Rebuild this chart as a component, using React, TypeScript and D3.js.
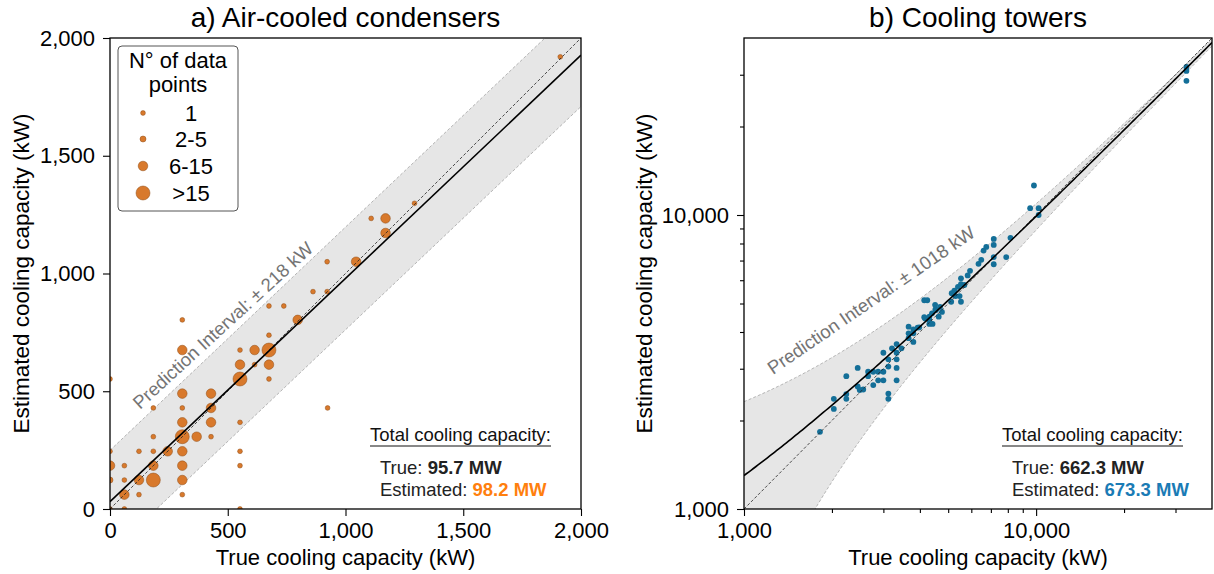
import React, { useEffect, useRef } from 'react';
import * as d3 from 'd3';

const FONT = "'Liberation Sans', Arial, Helvetica, sans-serif";

// a) air-cooled condensers: [true kW, estimated kW, size class]
const acPoints: [number, number, number][] = [
  [0, 0, 0], [61, 0, 0], [552, 0, 0],
  [61, 61, 2], [123, 61, 0], [307, 61, 0],
  [0, 123, 1], [61, 123, 0], [123, 123, 2], [184, 123, 3], [307, 123, 2],
  [0, 184, 2], [61, 184, 0], [184, 184, 2], [307, 184, 2], [552, 184, 0],
  [0, 245, 0], [123, 245, 0], [184, 245, 0], [245, 245, 2], [307, 245, 2], [552, 245, 0],
  [184, 307, 0], [307, 307, 3], [368, 307, 2], [429, 307, 0],
  [307, 368, 2], [429, 368, 2], [552, 368, 0],
  [184, 429, 0], [307, 429, 0], [429, 429, 2], [924, 429, 0],
  [307, 490, 2], [429, 490, 2],
  [0, 552, 0], [552, 552, 3], [675, 552, 0],
  [552, 613, 2], [614, 613, 0], [675, 613, 2],
  [307, 675, 2], [552, 675, 0], [614, 675, 2], [675, 675, 3],
  [675, 738, 0],
  [307, 803, 0], [797, 803, 2],
  [675, 862, 0], [738, 862, 0],
  [862, 923, 0], [922, 923, 0],
  [922, 1050, 0], [1045, 1050, 2],
  [1170, 1172, 2],
  [1109, 1234, 0], [1170, 1234, 2],
  [1293, 1298, 0],
  [1912, 1920, 0],
];
const sizeClasses = ['1', '2-5', '6-15', '>15'];
const acTicks = [0, 500, 1000, 1500, 2000];
const acFit = { a: 31, b: 0.948 };
const acInterval = 218;
const acTotals = ['95.7 MW', '98.2 MW'];

// b) cooling towers: [true, estimated] in thousands of kW
const ctPoints: [number, number][] = [
  [1.82, 1.83], [2.03, 2.37], [2.03, 2.19], [2.24, 2.83], [2.24, 2.46], [2.24, 2.37],
  [2.45, 3.02], [2.45, 2.61], [2.49, 2.54], [2.56, 2.55], [2.66, 2.93], [2.66, 2.83],
  [2.77, 2.93], [2.77, 2.64], [2.88, 2.93], [2.88, 2.74], [3.0, 2.93], [3.0, 2.74],
  [3.0, 3.40], [3.12, 3.05], [3.12, 3.23], [3.12, 2.47], [3.12, 2.37], [3.21, 3.52],
  [3.33, 3.64], [3.33, 3.40], [3.33, 3.23], [3.33, 3.02], [3.33, 2.74], [3.46, 3.52],
  [3.66, 4.17], [3.66, 3.96], [3.66, 3.81], [3.80, 3.96], [3.80, 3.70], [3.80, 4.08],
  [3.93, 4.14], [3.98, 4.15], [4.14, 4.49], [4.17, 4.45], [4.31, 4.39], [4.31, 4.26],
  [4.31, 4.51], [4.42, 4.26], [4.40, 4.63], [4.52, 4.77], [4.54, 4.75], [4.64, 4.51],
  [4.69, 4.87], [4.76, 4.68], [4.14, 5.13], [4.24, 5.13], [4.51, 4.95], [5.12, 5.07],
  [5.53, 5.07], [5.30, 5.30], [5.47, 5.30], [5.14, 5.42], [5.25, 5.53], [5.40, 5.70],
  [5.68, 5.78], [5.53, 5.82], [5.53, 6.09], [5.83, 6.23], [5.94, 6.46], [6.35, 6.82],
  [6.49, 7.04], [6.61, 7.57], [6.75, 7.79], [7.16, 8.29], [7.16, 7.91], [7.16, 7.19],
  [7.16, 6.80], [7.90, 7.19], [8.17, 8.36], [9.54, 10.55], [10.2, 10.55], [10.2, 10.0],
  [9.83, 12.6], [32.7, 31.9], [32.7, 30.9], [32.7, 28.6],
];
const ctMajor = [1000, 10000];
const ctMinor = [2000, 3000, 4000, 5000, 6000, 7000, 8000, 9000, 20000, 30000];
const ctFit = { a: 344, b: 0.956 };
const ctInterval = 1018;
const ctTotals = ['662.3 MW', '673.3 MW'];

const radius = [2.4, 3.0, 4.8, 7.0];
const orange = '#d8792c';
const blue = '#146f98';

export default function App() {
  const ref = useRef<SVGSVGElement>(null);

  useEffect(() => {
    const svg = d3.select(ref.current);
    svg.selectAll('*').remove();
    const top = 38, bottom = 509;

    const styleAxis = (g: any) => {
      g.select('.domain').remove();
      g.selectAll('line').attr('stroke', '#000').attr('stroke-width', 1.1);
      g.selectAll('text').attr('font-size', 22).attr('font-family', FONT).attr('fill', '#000');
    };

    const frame = (x0: number, x1: number, id: string) => {
      svg.append('clipPath').attr('id', id)
        .append('rect').attr('x', x0).attr('y', top).attr('width', x1 - x0).attr('height', bottom - top);
    };

    const labels = (x0: number, x1: number, title: string, ylx: number) => {
      svg.append('text').attr('x', (x0 + x1) / 2).attr('y', 27).attr('text-anchor', 'middle')
        .attr('font-size', 28).attr('font-family', FONT).text(title);
      svg.append('text').attr('x', (x0 + x1) / 2).attr('y', 565).attr('text-anchor', 'middle')
        .attr('font-size', 22).attr('font-family', FONT).text('True cooling capacity (kW)');
      svg.append('text').attr('transform', `translate(${ylx},${(top + bottom) / 2}) rotate(-90)`)
        .attr('text-anchor', 'middle').attr('font-size', 22.5).attr('font-family', FONT)
        .text('Estimated cooling capacity (kW)');
      svg.append('rect').attr('x', x0).attr('y', top).attr('width', x1 - x0).attr('height', bottom - top)
        .attr('fill', 'none').attr('stroke', '#000').attr('stroke-width', 1.3);
    };

    const totals = (x: number, vals: string[], color: string) => {
      const t = svg.append('text').attr('x', x).attr('y', 441).attr('font-size', 18.5)
        .attr('font-family', FONT).attr('fill', '#111').text('Total cooling capacity:');
      const w = (t.node() as SVGTextElement).getComputedTextLength();
      svg.append('line').attr('x1', x).attr('x2', x + w).attr('y1', 446).attr('y2', 446)
        .attr('stroke', '#111').attr('stroke-width', 1);
      const t1 = svg.append('text').attr('x', x + 10).attr('y', 474).attr('font-size', 18.5)
        .attr('font-family', FONT).attr('fill', '#222');
      t1.append('tspan').text('True: ');
      t1.append('tspan').attr('font-weight', 'bold').text(vals[0]);
      const t2 = svg.append('text').attr('x', x + 10).attr('y', 496).attr('font-size', 18.5)
        .attr('font-family', FONT).attr('fill', '#222');
      t2.append('tspan').text('Estimated: ');
      t2.append('tspan').attr('font-weight', 'bold').attr('fill', color).text(vals[1]);
    };

    // ---------- panel a ----------
    const ax0 = 110, ax1 = 581;
    const xa = d3.scaleLinear().domain([0, 2000]).range([ax0, ax1]);
    const ya = d3.scaleLinear().domain([0, 2000]).range([bottom, top]);
    frame(ax0, ax1, 'clipA');
    const ga = svg.append('g').attr('clip-path', 'url(#clipA)');
    const acX = [0, 2000];
    const fa = (x: number) => acFit.a + acFit.b * x;
    ga.append('path')
      .attr('d', d3.area<number>().x(d => xa(d)).y0(d => ya(fa(d) - acInterval)).y1(d => ya(fa(d) + acInterval))(acX))
      .attr('fill', '#e6e6e6');
    [acInterval, -acInterval].forEach(off => {
      ga.append('path').attr('d', d3.line<number>().x(d => xa(d)).y(d => ya(fa(d) + off))(acX))
        .attr('fill', 'none').attr('stroke', '#a3a3a3').attr('stroke-width', 0.8).attr('stroke-dasharray', '3 2');
    });
    ga.selectAll('circle').data(acPoints).join('circle')
      .attr('cx', d => xa(d[0])).attr('cy', d => ya(d[1])).attr('r', d => radius[d[2]])
      .attr('fill', orange).attr('stroke', '#8f4d16').attr('stroke-width', 0.5);
    ga.append('path').attr('d', d3.line<number>().x(d => xa(d)).y(d => ya(d))(acX))
      .attr('fill', 'none').attr('stroke', '#222').attr('stroke-width', 0.8).attr('stroke-dasharray', '3 2');
    ga.append('path').attr('d', d3.line<number>().x(d => xa(d)).y(d => ya(fa(d)))(acX))
      .attr('fill', 'none').attr('stroke', '#000').attr('stroke-width', 1.6);

    svg.append('text').attr('transform', 'translate(140,410) rotate(-42.5)')
      .attr('font-size', 18.5).attr('font-family', FONT).attr('fill', '#747474')
      .text(`Prediction Interval: ± ${acInterval} kW`);

    svg.append('g').attr('transform', `translate(0,${bottom})`)
      .call(d3.axisBottom(xa).tickValues(acTicks).tickFormat(d3.format(',')).tickSize(7).tickPadding(6))
      .call(styleAxis);
    svg.append('g').attr('transform', `translate(${ax0},0)`)
      .call(d3.axisLeft(ya).tickValues(acTicks).tickFormat(d3.format(',')).tickSize(7).tickPadding(8))
      .call(styleAxis);

    // legend
    const lg = svg.append('g');
    lg.append('rect').attr('x', 118).attr('y', 46).attr('width', 120).attr('height', 165).attr('rx', 4)
      .attr('fill', '#fff').attr('fill-opacity', 0.85).attr('stroke', '#555').attr('stroke-width', 1);
    lg.append('text').attr('x', 178).attr('y', 68).attr('text-anchor', 'middle').attr('font-size', 22)
      .attr('font-family', FONT).text('N° of data');
    lg.append('text').attr('x', 178).attr('y', 92).attr('text-anchor', 'middle').attr('font-size', 22)
      .attr('font-family', FONT).text('points');
    const rowY = [113, 139, 166, 193];
    sizeClasses.forEach((s, i) => {
      lg.append('circle').attr('cx', 143).attr('cy', rowY[i]).attr('r', radius[i])
        .attr('fill', orange).attr('stroke', '#8f4d16').attr('stroke-width', 0.5);
      lg.append('text').attr('x', 191).attr('y', rowY[i] + 7.5).attr('text-anchor', 'middle')
        .attr('font-size', 22).attr('font-family', FONT).text(s);
    });

    labels(ax0, ax1, 'a) Air-cooled condensers', 29);
    totals(370, acTotals, '#ff7f0e');

    // ---------- panel b ----------
    const bx0 = 744, bx1 = 1212;
    const xb = d3.scaleLog().domain([1000, 40000]).range([bx0, bx1]);
    const yb = d3.scaleLog().domain([1000, 40000]).range([bottom, top]);
    frame(bx0, bx1, 'clipB');
    const gb = svg.append('g').attr('clip-path', 'url(#clipB)');
    const fb = (x: number) => ctFit.a + ctFit.b * x;
    const bxs = d3.range(0, 201).map(i => 1000 * Math.pow(40, i / 200));
    gb.append('path')
      .attr('d', d3.area<number>().x(d => xb(d)).y0(d => yb(fb(d) - ctInterval)).y1(d => yb(fb(d) + ctInterval))(bxs))
      .attr('fill', '#e6e6e6');
    [ctInterval, -ctInterval].forEach(off => {
      gb.append('path').attr('d', d3.line<number>().x(d => xb(d)).y(d => yb(fb(d) + off))(bxs))
        .attr('fill', 'none').attr('stroke', '#a3a3a3').attr('stroke-width', 0.8).attr('stroke-dasharray', '3 2');
    });
    gb.selectAll('circle').data(ctPoints).join('circle')
      .attr('cx', d => xb(d[0] * 1000)).attr('cy', d => yb(d[1] * 1000)).attr('r', 2.9)
      .attr('fill', blue);
    gb.append('path').attr('d', d3.line<number>().x(d => xb(d)).y(d => yb(d))([1000, 40000]))
      .attr('fill', 'none').attr('stroke', '#222').attr('stroke-width', 0.8).attr('stroke-dasharray', '3 2');
    gb.append('path').attr('d', d3.line<number>().x(d => xb(d)).y(d => yb(fb(d)))(bxs))
      .attr('fill', 'none').attr('stroke', '#000').attr('stroke-width', 1.6);

    svg.append('text').attr('transform', 'translate(773,375) rotate(-34.4)')
      .attr('font-size', 18.5).attr('font-family', FONT).attr('fill', '#747474')
      .text(`Prediction Interval: ± ${ctInterval} kW`);

    svg.append('g').attr('transform', `translate(0,${bottom})`)
      .call(d3.axisBottom(xb).tickValues(ctMajor).tickFormat(d3.format(',')).tickSize(7).tickPadding(6))
      .call(styleAxis);
    svg.append('g').attr('transform', `translate(0,${bottom})`)
      .call(d3.axisBottom(xb).tickValues(ctMinor).tickFormat(() => '').tickSize(4))
      .call(styleAxis);
    svg.append('g').attr('transform', `translate(${bx0},0)`)
      .call(d3.axisLeft(yb).tickValues(ctMajor).tickFormat(d3.format(',')).tickSize(7).tickPadding(8))
      .call(styleAxis);
    svg.append('g').attr('transform', `translate(${bx0},0)`)
      .call(d3.axisLeft(yb).tickValues(ctMinor).tickFormat(() => '').tickSize(4))
      .call(styleAxis);

    labels(bx0, bx1, 'b) Cooling towers', 652);
    totals(1002, ctTotals, '#1a7bb5');
  }, []);

  return (
    <svg ref={ref} width={1214} height={574}
      style={{ position: 'absolute', left: 0, top: 0, background: '#fff' }} />
  );
}
